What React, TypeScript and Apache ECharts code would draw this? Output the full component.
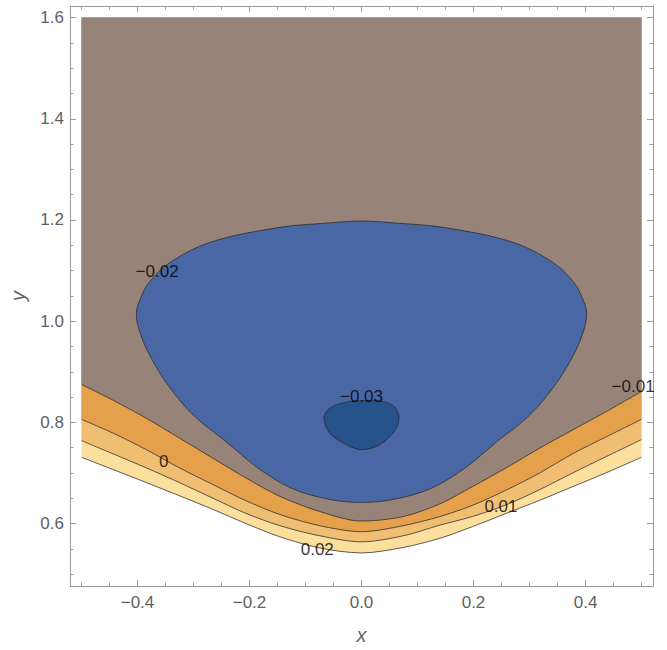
import React, { useEffect, useRef } from 'react';
import * as echarts from 'echarts';

// ---- axis ticks ----
const xMajorTicks = [-0.4, -0.2, 0, 0.2, 0.4];
const xMinorTicks = [-0.5, -0.45, -0.35, -0.3, -0.25, -0.15, -0.1, -0.05, 0.05, 0.1, 0.15, 0.25, 0.3, 0.35, 0.45, 0.5];
const yMajorTicks = [0.6, 0.8, 1.0, 1.2, 1.4, 1.6];
const yMinorTicks = [0.5, 0.55, 0.65, 0.7, 0.75, 0.85, 0.9, 0.95, 1.05, 1.1, 1.15, 1.25, 1.3, 1.35, 1.45, 1.5, 1.55];

// ---- open contour lines (x, y) ----
const contourMinus001 = [
  [-0.5, 0.875], [-0.444, 0.844], [-0.384, 0.808], [-0.325, 0.769], [-0.265, 0.729], [-0.206, 0.690],
  [-0.146, 0.654], [-0.075, 0.624], [0, 0.605], [0.075, 0.614], [0.14, 0.639], [0.198, 0.673],
  [0.258, 0.710], [0.318, 0.749], [0.377, 0.785], [0.438, 0.822], [0.5, 0.861],
];
const contour0 = [
  [-0.5, 0.806], [-0.444, 0.779], [-0.384, 0.746], [-0.325, 0.710], [-0.265, 0.677], [-0.206, 0.645],
  [-0.146, 0.618], [-0.075, 0.596], [0, 0.584], [0.075, 0.596], [0.14, 0.614], [0.198, 0.636],
  [0.258, 0.666], [0.318, 0.700], [0.377, 0.738], [0.438, 0.772], [0.5, 0.806],
];
const contour001 = [
  [-0.5, 0.764], [-0.444, 0.738], [-0.384, 0.710], [-0.325, 0.681], [-0.265, 0.650], [-0.206, 0.620],
  [-0.146, 0.596], [-0.075, 0.576], [0, 0.564], [0.075, 0.576], [0.14, 0.597], [0.198, 0.614],
  [0.258, 0.637], [0.318, 0.667], [0.377, 0.700], [0.438, 0.733], [0.5, 0.766],
];
const contour002 = [
  [-0.5, 0.731], [-0.444, 0.707], [-0.384, 0.681], [-0.325, 0.655], [-0.265, 0.628], [-0.206, 0.600],
  [-0.146, 0.574], [-0.075, 0.552], [0, 0.542], [0.075, 0.553], [0.14, 0.571], [0.198, 0.594],
  [0.258, 0.620], [0.318, 0.646], [0.377, 0.673], [0.438, 0.701], [0.5, 0.731],
];

// ---- closed contours ----
const contourMinus002 = [
  [0, 1.198], [0.06, 1.194], [0.148, 1.185], [0.27, 1.156], [0.342, 1.116], [0.379, 1.077],
  [0.395, 1.044], [0.402, 1.015], [0.396, 0.979], [0.378, 0.932], [0.345, 0.873], [0.3, 0.814],
  [0.243, 0.763], [0.185, 0.71], [0.125, 0.67], [0.058, 0.648], [0, 0.642],
  [-0.058, 0.648], [-0.125, 0.67], [-0.185, 0.71], [-0.243, 0.763], [-0.3, 0.814], [-0.345, 0.873],
  [-0.378, 0.932], [-0.396, 0.979], [-0.402, 1.015], [-0.395, 1.044], [-0.379, 1.077], [-0.342, 1.116],
  [-0.27, 1.156], [-0.148, 1.185], [-0.06, 1.194],
];
const contourMinus003 = [
  [-0.067, 0.808], [-0.057, 0.779], [-0.027, 0.756], [0, 0.746], [0.033, 0.756], [0.059, 0.783],
  [0.067, 0.808], [0.059, 0.831], [0.038, 0.841], [0, 0.843], [-0.039, 0.837], [-0.06, 0.825],
];

// ---- contour labels ----
const labelTexts = ['\u22120.02', '\u22120.03', '0', '0.01', '0.02', '\u22120.01'];
const labelX = [-0.365, 0.0, -0.353, 0.249, -0.079, 0.485];
const labelY = [1.099, 0.852, 0.723, 0.634, 0.549, 0.870];

const FONT = '"Liberation Sans", Arial, sans-serif';
const LINE = 'rgba(40,40,40,0.75)';
const FRAME = '#9a9a9a';
const TICKLABEL = '#5f5f5f';

const X_MIN = -0.5205, X_MAX = 0.5205;
const Y_MIN = 0.4767, Y_MAX = 1.6228;

function fmtX(v: number) {
  const r = Math.round(v * 10) / 10;
  return (r < 0 ? '\u2212' : '') + Math.abs(r).toFixed(1);
}
function fmtY(v: number) {
  return (Math.round(v * 10) / 10).toFixed(1);
}

function xAxisDef(position: string, ticks: number[], len: number, line: boolean, labels: boolean, name?: string) {
  return {
    type: 'value', position, min: X_MIN, max: X_MAX, gridIndex: 0,
    axisLine: { show: line, onZero: false, lineStyle: { color: FRAME, width: 1 } },
    axisTick: { show: true, inside: true, length: len, customValues: ticks, lineStyle: { color: FRAME, width: 1 } },
    axisLabel: labels
      ? { show: true, customValues: xMajorTicks, formatter: fmtX, color: TICKLABEL, fontSize: 17, fontFamily: FONT, margin: 8 }
      : { show: false },
    splitLine: { show: false },
    name: name || '',
    nameLocation: 'middle',
    nameGap: 39,
    nameTextStyle: { fontStyle: 'italic', fontSize: 20, color: '#666', fontFamily: FONT },
  };
}
function yAxisDef(position: string, ticks: number[], len: number, line: boolean, labels: boolean, name?: string) {
  return {
    type: 'value', position, min: Y_MIN, max: Y_MAX, gridIndex: 0,
    axisLine: { show: line, onZero: false, lineStyle: { color: FRAME, width: 1 } },
    axisTick: { show: true, inside: true, length: len, customValues: ticks, lineStyle: { color: FRAME, width: 1 } },
    axisLabel: labels
      ? { show: true, customValues: yMajorTicks, formatter: fmtY, color: TICKLABEL, fontSize: 17, fontFamily: FONT, margin: 6 }
      : { show: false },
    splitLine: { show: false },
    name: name || '',
    nameLocation: 'middle',
    nameRotate: 90,
    nameGap: 42,
    nameTextStyle: { fontStyle: 'italic', fontSize: 20, color: '#666', fontFamily: FONT },
  };
}

function band(data: number[][], color: string, z: number) {
  return {
    type: 'line', data, smooth: 0.3, symbol: 'none', showSymbol: false, silent: true,
    xAxisIndex: 0, yAxisIndex: 0, z,
    lineStyle: { color: LINE, width: 1 },
    areaStyle: { color, opacity: 1, origin: 1.6 },
  };
}
function blob(pts: number[][], color: string, z: number, smooth: number) {
  return {
    type: 'custom', coordinateSystem: 'cartesian2d', xAxisIndex: 0, yAxisIndex: 0, silent: true, z,
    data: [pts[0]],
    renderItem: (_p: any, api: any) => ({
      type: 'polygon',
      shape: { points: pts.map((p) => api.coord(p)), smooth },
      style: { fill: color, stroke: LINE, lineWidth: 1 },
    }),
  };
}

export default function App() {
  const ref = useRef<HTMLDivElement>(null);
  useEffect(() => {
    if (!ref.current) return;
    const chart = echarts.init(ref.current, undefined, { renderer: 'svg' });
    chart.setOption({
      animation: false,
      backgroundColor: '#ffffff',
      grid: { left: 70, top: 6, width: 583, height: 583, containLabel: false },
      xAxis: [
        xAxisDef('bottom', xMajorTicks, 6, true, true, 'x'),
        xAxisDef('bottom', xMinorTicks, 3.5, false, false),
        xAxisDef('top', xMajorTicks, 6, true, false),
        xAxisDef('top', xMinorTicks, 3.5, false, false),
      ],
      yAxis: [
        yAxisDef('left', yMajorTicks, 6, true, true, 'y'),
        yAxisDef('left', yMinorTicks, 3.5, false, false),
        yAxisDef('right', yMajorTicks, 6, true, false),
        yAxisDef('right', yMinorTicks, 3.5, false, false),
      ],
      series: [
        band(contour002, '#fddf9d', 2),
        band(contour001, '#f0be73', 2),
        band(contour0, '#e5a04c', 2),
        band(contourMinus001, '#978377', 2),
        blob(contourMinus002, '#4966a5', 3, 0.35),
        blob(contourMinus003, '#27528a', 4, 0.3),
        {
          type: 'scatter', xAxisIndex: 0, yAxisIndex: 0, z: 10, silent: true,
          symbolSize: 1, itemStyle: { color: 'rgba(0,0,0,0)' },
          data: labelTexts.map((t, i) => ({ name: t, value: [labelX[i], labelY[i]] })),
          label: { show: true, position: 'inside', formatter: '{b}', color: '#000', fontSize: 17, fontFamily: FONT },
        },
      ],
    });
    return () => chart.dispose();
  }, []);
  return <div ref={ref} style={{ position: 'absolute', left: 0, top: 0, width: 667, height: 650 }} />;
}
